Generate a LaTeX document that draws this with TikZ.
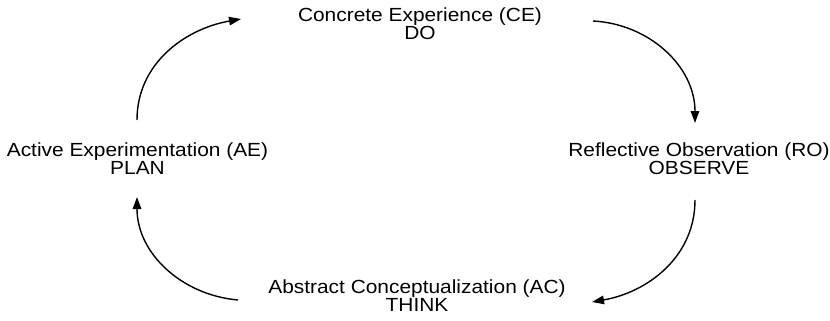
\documentclass[tikz,border=0pt]{standalone}
\usepackage{fontspec}
\setmainfont[FakeStretch=1.1]{Liberation Sans}
\usetikzlibrary{arrows.meta}
\begin{document}
\begin{tikzpicture}[x=1pt,y=-1pt,
  stage/.style={align=center,inner sep=0pt,font=\fontsize{19}{17}\selectfont},
  cyc/.style={line width=1.4pt,-{Triangle[length=12pt,width=8.5pt]}}]
\useasboundingbox[fill=white] (0,0) rectangle (830,321);
\node[stage] (ce) at (420,23.5) {Concrete Experience (CE)\\DO};
\node[stage] (ro) at (699,159) {Reflective Observation (RO)\\OBSERVE};
\node[stage] (ac) at (417,295.5) {Abstract Conceptualization (AC)\\THINK};
\node[stage] (ae) at (137.5,159) {Active Experimentation (AE)\\PLAN};
\coordinate (a1s) at (137,120);
\coordinate (a1e) at (241,19);
\coordinate (a2s) at (593,21);
\coordinate (a2e) at (695,123);
\coordinate (a3s) at (695,200);
\coordinate (a3e) at (592,302);
\coordinate (a4s) at (238,300);
\coordinate (a4e) at (137,197);
\draw[cyc] (a1s) to[out=90,in=190] (a1e);
\draw[cyc] (a2s) to[out=-3,in=90] (a2e);
\draw[cyc] (a3s) to[out=-90,in=10] (a3e);
\draw[cyc] (a4s) to[out=175,in=-90] (a4e);
\end{tikzpicture}
\end{document}
